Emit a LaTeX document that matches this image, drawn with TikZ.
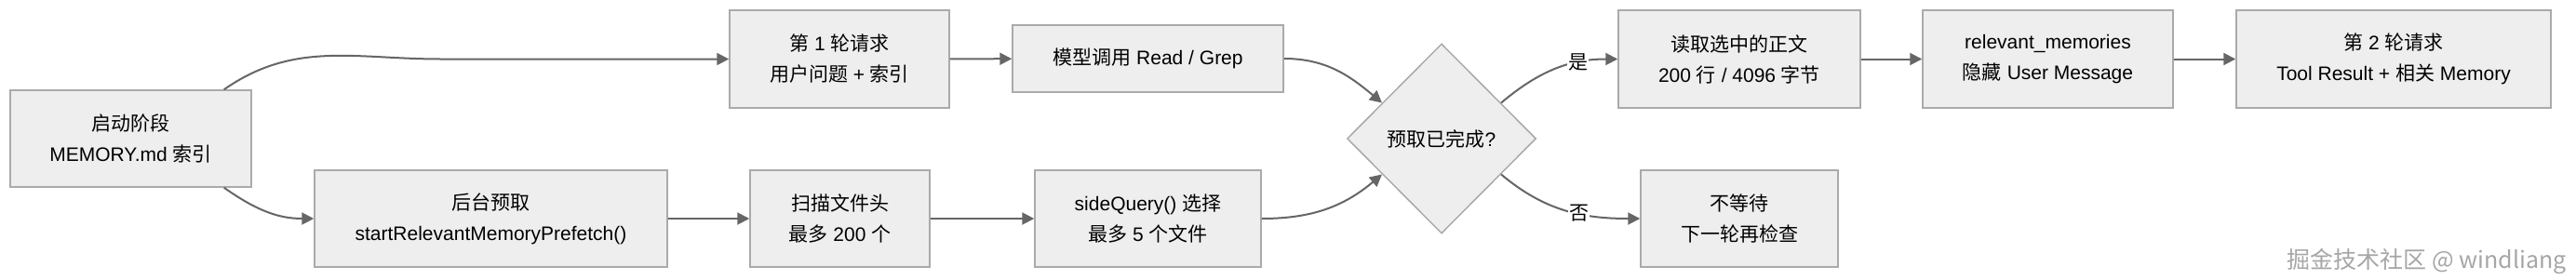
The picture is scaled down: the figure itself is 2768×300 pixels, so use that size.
\documentclass[tikz,border=0pt]{standalone}
\usepackage{fontspec}
\setmainfont{Liberation Sans}
\newfontfamily\zhfont{Noto Sans CJK SC}
\newcommand{\zh}[1]{{\zhfont #1}}
\usetikzlibrary{shapes.geometric,arrows.meta}
\definecolor{boxfill}{HTML}{EEEEEE}
\definecolor{boxline}{HTML}{AAAAAA}
\definecolor{flowline}{HTML}{666666}
\definecolor{markgray}{HTML}{A6A6A6}

\begin{document}
\begin{tikzpicture}[
        x=1pt, y=-1pt,
        font=\fontsize{21}{33}\selectfont,
        stepbox/.style={draw=boxline, line width=1.5pt, fill=boxfill, align=center, inner sep=0pt, minimum height=105pt},
        choice/.style={diamond, draw=boxline, line width=1.5pt, fill=boxfill, aspect=1, minimum width=203pt, minimum height=204pt, inner sep=0pt},
        arrow/.style={draw=flowline, line width=2pt, -{Triangle[length=13pt, width=13pt]}},
        tag/.style={fill=white, inner sep=1pt}
    ]

    \useasboundingbox (0,0) rectangle (2768,300);

    % ==========================================
    % START
    % ==========================================
    \node[stepbox, minimum width=259pt, minimum height=104pt] (start) at (140.5,149) {\zh{启动阶段}\\MEMORY.md \zh{索引}};

    % ==========================================
    % ROW 1: first request (top)
    % ==========================================
    \node[stepbox, minimum width=236pt] (round1) at (902,63.5) {\zh{第} 1 \zh{轮请求}\\\zh{用户问题} + \zh{索引}};
    \node[stepbox, minimum width=291pt, minimum height=72pt] (model) at (1233.5,63) {\zh{模型调用} Read / Grep};

    % ==========================================
    % ROW 2: prefetch (bottom)
    % ==========================================
    \node[stepbox, minimum width=379pt, minimum height=104pt] (prefetch) at (527.5,235) {\zh{后台预取}\\startRelevantMemoryPrefetch()};
    \node[stepbox, minimum width=193pt, minimum height=104pt] (scan) at (902.5,235) {\zh{扫描文件头}\\\zh{最多} 200 \zh{个}};
    \node[stepbox, minimum width=243pt, minimum height=104pt] (side) at (1233.5,235) {sideQuery() \zh{选择}\\\zh{最多} 5 \zh{个文件}};

    % ==========================================
    % DECISION + RESULTS
    % ==========================================
    \node[choice] (check) at (1549,149) {\zh{预取已完成}?};
    \node[stepbox, minimum width=260pt] (read) at (1869,63.5) {\zh{读取选中的正文}\\200 \zh{行} / 4096 \zh{字节}};
    \node[stepbox, minimum width=212pt, minimum height=104pt] (nowait) at (1869,235) {\zh{不等待}\\\zh{下一轮再检查}};
    \node[stepbox, minimum width=269pt] (relevant) at (2200.5,63.5) {relevant\_memories\\\zh{隐藏} User Message};
    \node[stepbox, minimum width=338pt] (round2) at (2572,63.5) {\zh{第} 2 \zh{轮请求}\\Tool Result + \zh{相关} Memory};

    % watermark
    \node[text=markgray, anchor=east, inner sep=0pt, font=\fontsize{25}{28}\selectfont\zhfont] (mark) at (2758,281) {掘金技术社区 @ windliang};

    % ==========================================
    % CONNECTORS
    % ==========================================
    \draw[arrow] ([xshift=-30pt]start.north east) to[out=35, in=180] ([xshift=-310pt]round1.west) -- (round1.west);
    \draw[arrow] ([xshift=-30pt]start.south east) to[out=-35, in=180] (prefetch.west);

    \draw[arrow] (round1) -- (model);
    \draw[arrow] (prefetch) -- (scan);
    \draw[arrow] (scan) -- (side);

    \draw[arrow] (model.east) to[out=0, in=140] (check.149);
    \draw[arrow] (side.east) to[out=0, in=220] (check.211);

    \draw[arrow] (check.31) to[out=40, in=180] node[tag, pos=0.7] {\zh{是}} (read.west);
    \draw[arrow] (check.329) to[out=-40, in=180] node[tag, pos=0.6] {\zh{否}} (nowait.west);

    \draw[arrow] (read) -- (relevant);
    \draw[arrow] (relevant) -- (round2);

    \end{tikzpicture}
\end{document}
